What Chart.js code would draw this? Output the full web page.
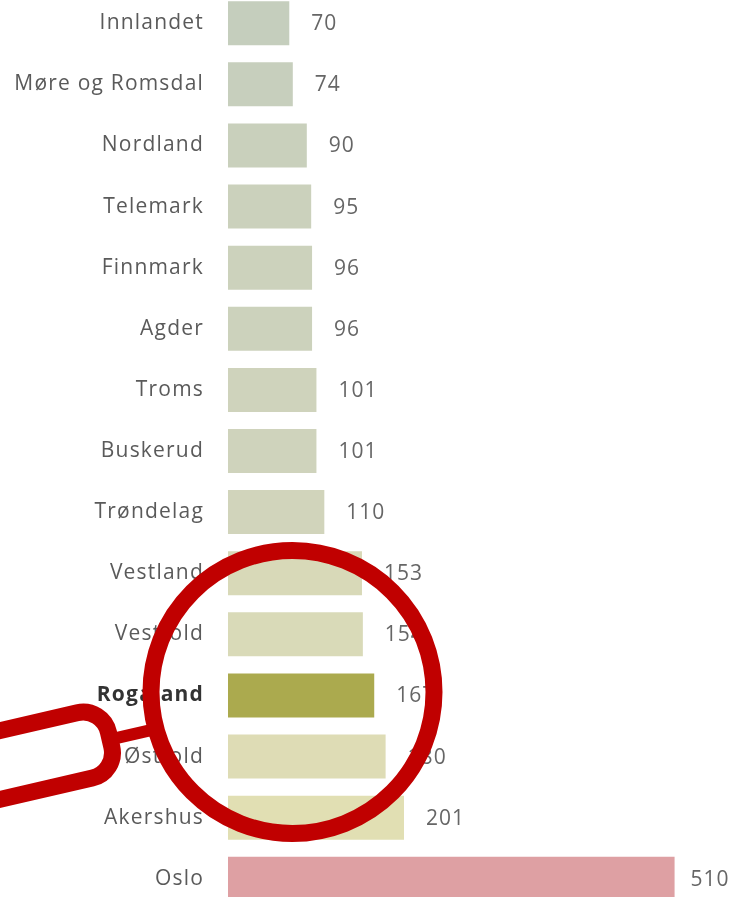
<!DOCTYPE html>
<html>
<head>
<meta charset="utf-8">
<script src="https://cdn.jsdelivr.net/npm/chart.js@4"></script>
<style>
  html, body { margin: 0; padding: 0; background: #ffffff; overflow: hidden; }
  body { width: 742px; height: 897px; position: relative; }
  #wrap { position: absolute; left: 0; top: -44px; width: 742px; height: 990px; }
  #lens { position: absolute; left: 0; top: 0; width: 742px; height: 897px; pointer-events: none; }
</style>
</head>
<body>
<div id="wrap"><canvas id="c"></canvas></div>
<svg id="lens" width="742" height="897" viewBox="0 0 742 897">
  <circle cx="292.5" cy="692" r="141.5" fill="none" stroke="#c00000" stroke-width="17"/>
  <g transform="translate(0,765) rotate(-13)">
    <rect x="-200" y="-33.5" width="313" height="67" rx="26" ry="26" fill="none" stroke="#c00000" stroke-width="17"/>
    <line x1="118" y1="0" x2="165" y2="0" stroke="#c00000" stroke-width="12"/>
  </g>
</svg>
<script>
const categories = ["Innlandet","Møre og Romsdal","Nordland","Telemark","Finnmark","Agder","Troms","Buskerud","Trøndelag","Vestland","Vestfold","Rogaland","Østfold","Akershus","Oslo"];
const values = [70, 74, 90, 95, 96, 96, 101, 101, 110, 153, 154, 167, 180, 201, 510];
const barColors = ["#c5cebd","#c7cfbd","#c9d0bc","#cbd1bc","#ccd2bc","#ccd2bc","#cfd3bc","#cfd3bc","#d1d4bb","#d8d9b8","#d9dab8","#abaa4e","#dedcb5","#e1dfb3","#dea0a3"];
const highlight = "Rogaland";

const spacingPlugin = {
  id: 'spacing',
  beforeDraw(chart) { chart.ctx.letterSpacing = '1.2px'; }
};

const valueLabels = {
  id: 'valueLabels',
  afterDatasetsDraw(chart) {
    const ctx = chart.ctx;
    const meta = chart.getDatasetMeta(0);
    ctx.save();
    ctx.letterSpacing = '1px';
    ctx.font = '21px "Open Sans"';
    ctx.fillStyle = '#666666';
    ctx.textAlign = 'left';
    ctx.textBaseline = 'middle';
    meta.data.forEach((bar, i) => {
      const off = i === values.length - 1 ? 16 : 22;
      ctx.fillText(String(values[i]), bar.x + off, bar.y + 1);
    });
    ctx.restore();
  }
};

new Chart(document.getElementById('c'), {
  type: 'bar',
  data: {
    labels: categories,
    datasets: [{
      data: values,
      backgroundColor: barColors,
      borderWidth: 0,
      categoryPercentage: 0.72,
      barPercentage: 1.0
    }]
  },
  options: {
    indexAxis: 'y',
    responsive: true,
    maintainAspectRatio: false,
    animation: false,
    layout: { padding: 0 },
    plugins: { legend: { display: false }, tooltip: { enabled: false } },
    scales: {
      x: { display: false, min: 0, max: 587 },
      y: {
        grid: { display: false, drawTicks: false },
        border: { display: false },
        afterFit(scale) { scale.width = 228; },
        ticks: {
          padding: 24,
          color: ctx => categories[ctx.index] === highlight ? '#333333' : '#5a5a5a',
          font: ctx => categories[ctx.index] === highlight
            ? { family: '"Open Sans"', size: 21, weight: 'bold' }
            : { family: '"Open Sans"', size: 21, weight: 'normal' }
        }
      }
    }
  },
  plugins: [spacingPlugin, valueLabels]
});
</script>
</body>
</html>
